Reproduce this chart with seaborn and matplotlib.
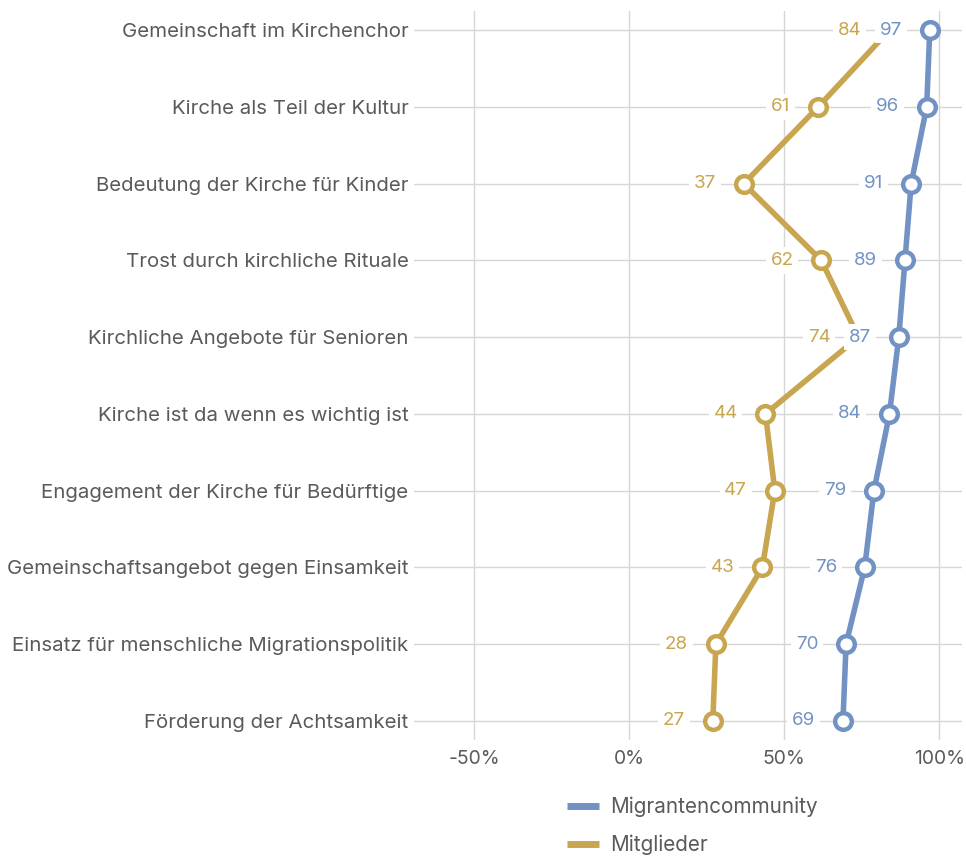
import matplotlib
matplotlib.use("Agg")
import matplotlib.pyplot as plt
import seaborn as sns
import pandas as pd
from matplotlib.lines import Line2D

categories = [
    "Gemeinschaft im Kirchenchor",
    "Kirche als Teil der Kultur",
    "Bedeutung der Kirche für Kinder",
    "Trost durch kirchliche Rituale",
    "Kirchliche Angebote für Senioren",
    "Kirche ist da wenn es wichtig ist",
    "Engagement der Kirche für Bedürftige",
    "Gemeinschaftsangebot gegen Einsamkeit",
    "Einsatz für menschliche Migrationspolitik",
    "Förderung der Achtsamkeit",
]
migranten = [97, 96, 91, 89, 87, 84, 79, 76, 70, 69]
mitglieder = [84, 61, 37, 62, 74, 44, 47, 43, 28, 27]
series_names = ["Migrantencommunity", "Mitglieder"]
colors = {"Migrantencommunity": "#7392C4", "Mitglieder": "#C8A650"}

sns.set_theme(style="white")
plt.rcParams["font.family"] = ["Inter", "DejaVu Sans"]

df = pd.concat([
    pd.DataFrame({"Kategorie": categories, "Wert": migranten, "Gruppe": series_names[0]}),
    pd.DataFrame({"Kategorie": categories, "Wert": mitglieder, "Gruppe": series_names[1]}),
], ignore_index=True)
cat_pos = {c: i for i, c in enumerate(categories)}
df["pos"] = df["Kategorie"].map(cat_pos)

fig = plt.figure(figsize=(9.66, 8.59), dpi=100)
ax = fig.add_axes([414 / 966, 1 - 740 / 859, 548 / 966, 729 / 859])

# Mitglieder first, then Migranten on top
for name in [series_names[1], series_names[0]]:
    sub = df[df["Gruppe"] == name]
    sns.lineplot(data=sub, x="Wert", y="pos", orient="y", sort=False, ax=ax,
                 color=colors[name], linewidth=4.0, marker="o", markersize=12,
                 markerfacecolor="white", markeredgecolor=colors[name],
                 markeredgewidth=3.2, zorder=3, legend=False, solid_capstyle="butt")

for name, vals in [(series_names[1], mitglieder), (series_names[0], migranten)]:
    for i, v in enumerate(vals):
        ax.annotate(f"{v}", xy=(v, i), xytext=(-20, 0), textcoords="offset points",
                    ha="right", va="center", fontsize=13.5, color=colors[name],
                    bbox=dict(boxstyle="square,pad=0.25", fc="white", ec="none"),
                    zorder=5)

ax.set_xlim(-69.4, 107.4)
ax.set_ylim(9.25, -0.25)
ax.set_yticks(range(len(categories)))
ax.set_yticklabels(categories)
ax.set_xticks([-50, 0, 50, 100])
ax.set_xticklabels(["-50%", "0%", "50%", "100%"])
ax.tick_params(axis="y", length=0, labelsize=14.7, labelcolor="#5a5a5a", pad=4)
ax.tick_params(axis="x", length=0, labelsize=13.9, labelcolor="#5a5a5a", pad=7)
ax.set_xlabel("")
ax.set_ylabel("")
for s in ax.spines.values():
    s.set_visible(False)
ax.grid(True, color="#d6d6d6", linewidth=1)
ax.set_axisbelow(True)

handles = [Line2D([0], [0], color=colors[n], linewidth=5, solid_capstyle="butt")
           for n in series_names]
fig.legend(handles, series_names, loc="upper left", bbox_to_anchor=(548 / 966, 1 - 778 / 859),
           frameon=False, fontsize=14.9, labelcolor="#5a5a5a", handlelength=1.55,
           handletextpad=0.53, labelspacing=0.84, ncol=1)

fig.savefig("out.png", dpi=100)
